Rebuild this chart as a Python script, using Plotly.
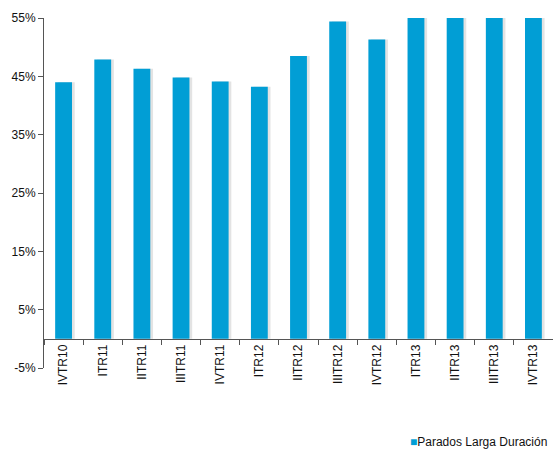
import plotly.graph_objects as go

TRIMESTRES = ["IVTR10", "ITR11", "IITR11", "IIITR11", "IVTR11", "ITR12", "IITR12",
              "IIITR12", "IVTR12", "ITR13", "IITR13", "IIITR13", "IVTR13"]
PARADOS_LD = [44.0, 47.9, 46.3, 44.8, 44.1, 43.2, 48.5, 54.4, 51.3, 57.0, 57.5, 58.0, 58.5]
Y_TICKS = [-5, 5, 15, 25, 35, 45, 55]
Y_LABELS = [f"{v}%" for v in Y_TICKS]
SERIE = "Parados Larga Duración"

BAR_COLOR = "#019ED5"
BAR_W = 0.43

fig = go.Figure()

# sombra suave a la derecha de cada barra
fig.add_trace(go.Bar(
    x=TRIMESTRES, y=PARADOS_LD,
    width=BAR_W, offset=-BAR_W / 2 + 0.07,
    marker=dict(color="rgba(0,0,0,0.11)", line=dict(width=0)),
    showlegend=False, hoverinfo="skip",
))
fig.add_trace(go.Bar(
    x=TRIMESTRES, y=PARADOS_LD,
    width=BAR_W, offset=-BAR_W / 2,
    name=SERIE,
    marker=dict(color=BAR_COLOR, line=dict(width=0)),
    showlegend=False,
))

# leyenda compacta (cuadro pegado al texto, como en el original)
fig.add_annotation(
    text=f"<span style='color:{BAR_COLOR}'>■</span>{SERIE}",
    xref="paper", yref="paper",
    x=1.0, xanchor="right", xshift=-4,
    y=-0.21, yanchor="middle",
    showarrow=False,
    font=dict(size=12, color="#111111"),
)

fig.update_layout(
    width=553, height=450,
    barmode="overlay",
    paper_bgcolor="#ffffff",
    plot_bgcolor="#ffffff",
    font=dict(family="Liberation Sans, Arial, sans-serif", size=12, color="#111111"),
    margin=dict(l=44, r=0, t=18, b=82),
    xaxis=dict(
        anchor="free", position=5 / 60,
        showline=True, linecolor="#555555", linewidth=1,
        ticks="outside", ticklen=5, tickcolor="#555555",
        tickson="boundaries",
        tickangle=-90,
        tickfont=dict(size=12),
        showgrid=False,
    ),
    yaxis=dict(
        range=[-5, 55],
        tickvals=Y_TICKS,
        ticktext=Y_LABELS,
        showline=True, linecolor="#555555", linewidth=1,
        ticks="outside", ticklen=5, tickcolor="#555555",
        tickfont=dict(size=12),
        showgrid=False, zeroline=False,
    ),
    showlegend=False,
)

# sin el margen por defecto del <body>, la figura ocupa la ventana exacta
fig.write_html(
    "out.html",
    config={"displayModeBar": False},
    post_script="document.body.style.margin='0';",
)
